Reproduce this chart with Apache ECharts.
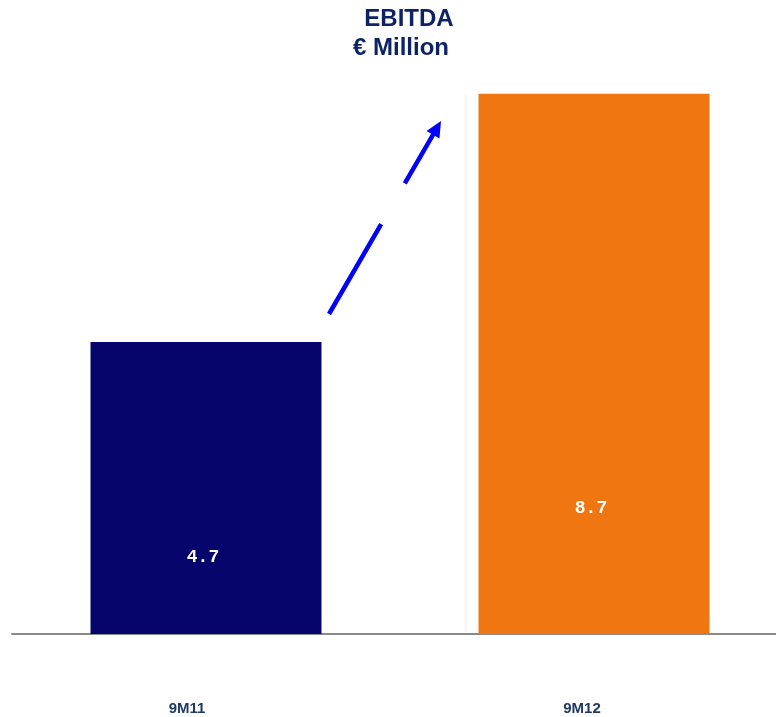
<!DOCTYPE html>
<html>
<head>
<meta charset="utf-8">
<script src="https://cdn.jsdelivr.net/npm/echarts@6/dist/echarts.min.js"></script>
<style>
  html, body { margin: 0; padding: 0; background: #ffffff; }
  #chart { width: 776px; height: 717px; }
</style>
</head>
<body>
<div id="chart"></div>
<script>
// EBITDA, € million, nine-month periods
const periods = ['9M11', '9M12'];
const ebitda = [4.7, 8.7];
const barColors = ['#05056b', '#f07611'];
const labelLift = [68, 117];   // how far each value label sits above the baseline
const titleLines = ['EBITDA', '€ Million'];

const chart = echarts.init(document.getElementById('chart'), null, { renderer: 'canvas' });

const titleFont = {
  fontFamily: 'Liberation Sans, Arial, sans-serif',
  fontWeight: 'bold',
  fontSize: 24,
  lineHeight: 29,
  color: '#0d2366'
};
const catFont = {
  fontFamily: 'Liberation Sans, Arial, sans-serif',
  fontWeight: 'bold',
  fontSize: 15,
  color: '#1f3864'
};

const option = {
  backgroundColor: '#ffffff',
  animation: false,
  title: {
    text: '{t1|' + titleLines[0] + '}\n{t2|' + titleLines[1] + '}',
    left: 396,
    top: 0,
    textAlign: 'center',
    textStyle: {
      rich: {
        t1: Object.assign({ padding: [0, 0, 0, 16] }, titleFont),
        t2: Object.assign({}, titleFont)
      }
    }
  },
  grid: { left: 12, top: 75, width: 776, height: 559, containLabel: false, outerBoundsMode: 'none' },
  xAxis: {
    type: 'category',
    data: periods,
    axisLine: { show: true, lineStyle: { color: '#8a8a8a', width: 2 } },
    axisTick: { show: false },
    axisLabel: {
      margin: 67,
      formatter: (v, i) => (i === 0 ? '{a|' + v + '}' : '{b|' + v + '}'),
      rich: {
        a: Object.assign({ padding: [0, 38, 0, 0] }, catFont),
        b: Object.assign({ padding: [0, 24, 0, 0] }, catFont)
      }
    }
  },
  yAxis: {
    type: 'value',
    min: 0,
    max: 9,
    show: false,
    splitLine: { show: false }
  },
  series: [{
    type: 'bar',
    barWidth: 231,
    data: ebitda.map((v, i) => ({
      value: v,
      itemStyle: { color: barColors[i] },
      label: { distance: labelLift[i] }
    })),
    label: {
      show: true,
      position: 'insideBottom',
      offset: [-3, 0],
      formatter: p => p.value.toFixed(1),
      fontFamily: 'Liberation Mono, Courier New, monospace',
      fontWeight: 'bold',
      fontSize: 18,
      color: '#ffffff'
    }
  }]
};

chart.setOption(option);

// Dashed growth arrow rising from the first bar toward the second
function drawArrow() {
  const start = [329, 314];
  const end = [441, 121];
  const dx = end[0] - start[0], dy = end[1] - start[1];
  const len = Math.sqrt(dx * dx + dy * dy);
  const ux = dx / len, uy = dy / len;
  const headLen = 16, headHalf = 7.5;
  const base = [end[0] - ux * headLen, end[1] - uy * headLen];
  const px = -uy, py = ux;
  chart.setOption({
    graphic: [
      {
        type: 'line',
        shape: { x1: start[0], y1: start[1], x2: base[0] + ux * 2, y2: base[1] + uy * 2 },
        style: { stroke: '#0000ff', lineWidth: 4.5, lineDash: [104, 47], lineCap: 'butt' },
        z: 10
      },
      {
        type: 'polygon',
        shape: {
          points: [
            [end[0], end[1]],
            [base[0] + px * headHalf, base[1] + py * headHalf],
            [base[0] - px * headHalf, base[1] - py * headHalf]
          ]
        },
        style: { fill: '#0000ff' },
        z: 10
      },
      {
        type: 'line',
        shape: { x1: 466, y1: 95, x2: 466, y2: 632 },
        style: { stroke: '#f5f5f5', lineWidth: 2 },
        z: 1
      }
    ]
  });
}
drawArrow();
</script>
</body>
</html>
